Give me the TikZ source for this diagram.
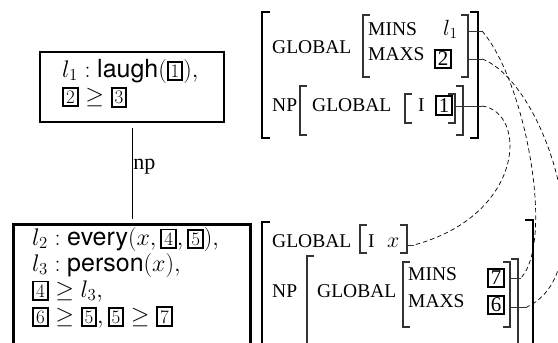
\RequirePackage{fix-cm}
\documentclass[tikz,border=0pt]{standalone}
\usepackage{fontspec}
\setsansfont[Scale=1.04]{TeX Gyre Heros}
\newfontfamily\avmfont{Liberation Serif}
\newfontfamily\npfont{Liberation Serif}

\newcommand{\tagbox}[1]{{\setlength{\fboxsep}{2pt}\setlength{\fboxrule}{1.9pt}\fbox{\fontsize{19}{19}\selectfont #1}}}
\newcommand{\avmtag}[1]{{\setlength{\fboxsep}{1.4pt}\setlength{\fboxrule}{1.9pt}\fbox{\npfont\fontsize{21}{21}\selectfont #1}}}

\begin{document}
\begin{tikzpicture}[x=1pt, y=1pt,
	semframe/.style={draw=black, line width=2.8pt, inner sep=0pt},
	semtext/.style={font=\fontsize{24}{26}\selectfont, align=left, inner sep=0pt},
	treeline/.style={line width=0.7pt, color=black},
	outerbrak/.style={line width=1.6pt, color=black},
	innerbrak/.style={line width=1.1pt, color=black!80},
	avmlab/.style={font=\avmfont\fontsize{19.5}{21}\selectfont, inner sep=0pt, anchor=base west},
	avmval/.style={font=\fontsize{22}{24}\selectfont, inner sep=0pt, anchor=base west},
	avmbox/.style={inner sep=0pt},
	avmtick/.style={line width=0.8pt, color=black!80},
	reentry/.style={line width=0.7pt, color=black, dash pattern=on 4.5pt off 3pt}]

		\useasboundingbox (0,0) rectangle (558,-343);
		\clip (0,0) rectangle (558,-343);

		% semantic boxes of the tree
		\node[semframe, minimum width=184pt, minimum height=70pt](topsem) at (132,-87){};
		\node[semtext, anchor=north west](toptext) at (62,-59){$l_1:\textsf{laugh}(\tagbox{1}),$\\ $\tagbox{2}\geq\tagbox{3}$};

		\node[semframe, minimum width=237pt, minimum height=150pt, anchor=north](lowsem) at (132,-223){};
		\node[semtext, anchor=north west](lowtext) at (32,-227){$l_2:\textsf{every}(x,\tagbox{4},\tagbox{5}),$\\ $l_3:\textsf{person}(x),$\\ $\tagbox{4}\geq l_3,$\\ $\tagbox{6}\geq\tagbox{5},\tagbox{5}\geq\tagbox{7}$};

		\draw [treeline, shorten <=4.5pt, shorten >=4.5pt] (topsem.south) -- node[pos=0.43, right, inner sep=1pt, font=\npfont\fontsize{22}{24}\selectfont](np){np} (lowsem.north);

		% brackets of the two feature structures
		\foreach \x/\ya/\yb in {262/12/138, 262/222/360}
			\draw [outerbrak] (\x+8,-\ya) -- (\x,-\ya) -- (\x,-\yb) -- (\x+8,-\yb);
		\foreach \x/\ya/\yb in {478/12/138, 533/220/360}
			\draw [outerbrak] (\x-8,-\ya) -- (\x,-\ya) -- (\x,-\yb) -- (\x-8,-\yb);
		\foreach \x/\ya/\yb in {363/15/77, 300/86/135, 405/94/123, 360/225/253, 307/256/360, 403/262/327}
			\draw [innerbrak] (\x+7,-\ya) -- (\x,-\ya) -- (\x,-\yb) -- (\x+7,-\yb);
		\foreach \x/\ya/\yb in {468/15/77, 463/86/135, 455/94/123, 407/225/253, 518/259/360, 510/262/327}
			\draw [innerbrak] (\x-7,-\ya) -- (\x,-\ya) -- (\x,-\yb) -- (\x-7,-\yb);

		% upper feature structure
		\node[avmlab](upGlobal) at (272,-53){GLOBAL};
		\node[avmlab](upMinsLab) at (368,-35){MINS};
		\node[avmlab](upMaxsLab) at (368,-60){MAXS};
		\node[avmval](upMinsVal) at (443,-35){$l_1$};
		\node[avmbox](upMaxsVal) at (443,-59){\avmtag{2}};
		\node[avmlab](upNp) at (272,-111){NP};
		\node[avmlab](upNpGlobal) at (312,-111){GLOBAL};
		\node[avmlab](upI) at (418,-111){I};
		\node[avmbox](upIVal) at (444,-105.5){\avmtag{1}};

		% lower feature structure
		\node[avmlab](loGlobal) at (272,-247){GLOBAL};
		\node[avmlab](loI) at (368,-247){I};
		\node[avmval](loIVal) at (387,-247){$x$};
		\node[avmlab](loNp) at (272,-297){NP};
		\node[avmlab](loNpGlobal) at (317,-297){GLOBAL};
		\node[avmlab](loMinsLab) at (408,-280){MINS};
		\node[avmlab](loMaxsLab) at (408,-307){MAXS};
		\node[avmbox](loMinsVal) at (496,-278){\avmtag{7}};
		\node[avmbox](loMaxsVal) at (496,-305){\avmtag{6}};

		% ends of the reentrancy lines
		\coordinate (upMins) at (482,-31);
		\coordinate (upMaxs) at (482,-59);
		\coordinate (upInd) at (482,-106);
		\coordinate (loInd) at (414,-245);
		\coordinate (loMins) at (521,-278);
		\coordinate (loMaxs) at (527,-307);

		\draw [avmtick] (468,-31) -- (upMins);
		\draw [avmtick] (468,-59) -- (upMaxs);
		\draw [avmtick] (455,-106) -- (upInd);
		\draw [avmtick] (407,-245) -- (loInd);
		\draw [avmtick] (510,-278) -- (loMins);
		\draw [avmtick] (510,-307) -- (loMaxs);

		\draw [reentry] (upMins) .. controls (525,-80) and (555,-240) .. (loMins);
		\draw [reentry] (upMaxs) .. controls (545,-82) and (605,-270) .. (loMaxs);
		\draw [reentry] (upInd) .. controls (528,-112) and (525,-215) .. (loInd);

	\end{tikzpicture}
\end{document}
